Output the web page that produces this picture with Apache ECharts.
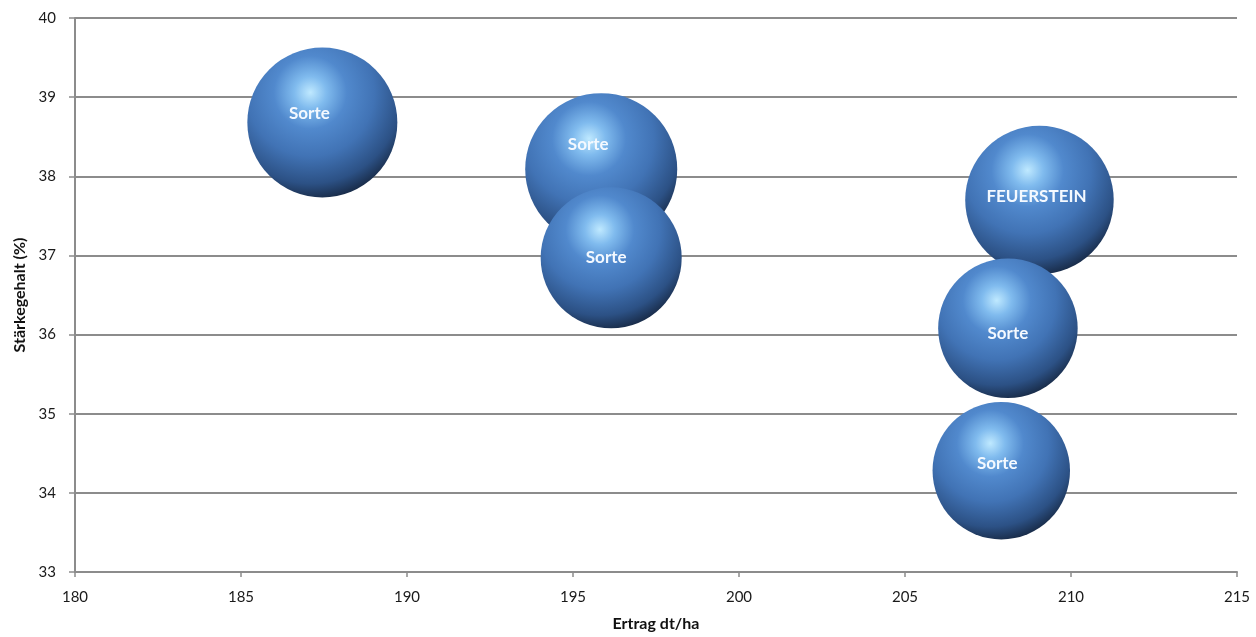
<!DOCTYPE html>
<html><head><meta charset="utf-8">
<script src="https://cdn.jsdelivr.net/npm/echarts@6/dist/echarts.min.js"></script>
<style>html,body{margin:0;padding:0;background:#fff}#c{width:1256px;height:637px}</style>
</head><body><div id="c"></div>
<script>
const names = ['Sorte','Sorte','Sorte','FEUERSTEIN','Sorte','Sorte'];
const ertrag = [187.45, 195.85, 196.15, 209.05, 208.1, 207.9];
const staerke = [38.68, 38.09, 36.97, 37.7, 36.08, 34.28];
const bubbleValue = [100, 102.7, 88.4, 98, 86.5, 84];
const xTicks = [180,185,190,195,200,205,210,215];
const yTicks = [33,34,35,36,37,38,39,40];

const chart = echarts.init(document.getElementById('c'));
const labelOffsets = [[-13,-9],[-13,-25],[-5,0],[-3,-4],[0,5],[-4,-7]];
const sphere = new echarts.graphic.RadialGradient(0.42, 0.3, 0.76, [
  {offset:0, color:'#bfe9ff'},
  {offset:0.14, color:'#80bbee'},
  {offset:0.32, color:'#5189cd'},
  {offset:0.56, color:'#4173b5'},
  {offset:0.8, color:'#2c5185'},
  {offset:1, color:'#111d31'}
]);
const data = ertrag.map((x,i)=>({
  value:[x, staerke[i], bubbleValue[i]],
  name:names[i],
  label:{offset:labelOffsets[i]}
}));
const axisFont = {fontFamily:'Lato, "Open Sans", sans-serif', fontSize:15, color:'#1a1a1a'};
const nameFont = {fontFamily:'Lato, "Open Sans", sans-serif', fontSize:16, fontWeight:'bold', color:'#111'};
chart.setOption({
  animation:false,
  grid:{left:75, right:19, top:18, bottom:65, containLabel:false, outerBoundsMode:'none'},
  xAxis:{type:'value', min:xTicks[0], max:xTicks[xTicks.length-1], interval:5,
    name:'Ertrag dt/ha', nameLocation:'middle', nameGap:44,
    nameTextStyle:nameFont,
    axisLine:{lineStyle:{color:'#8c8c8c', width:2}},
    axisTick:{show:true, length:5, lineStyle:{color:'#8c8c8c', width:1.5}},
    axisLabel:Object.assign({margin:18}, axisFont),
    splitLine:{show:false}},
  yAxis:{type:'value', min:yTicks[0], max:yTicks[yTicks.length-1], interval:1,
    name:'Stärkegehalt (%)', nameLocation:'middle', nameGap:43, nameRotate:90,
    nameTextStyle:nameFont,
    axisLine:{show:true, lineStyle:{color:'#8c8c8c', width:2}},
    axisTick:{show:true, length:6, lineStyle:{color:'#8c8c8c', width:1.5}},
    axisLabel:Object.assign({margin:19}, axisFont),
    splitLine:{show:true, lineStyle:{color:'#8c8c8c', width:2}}},
  series:[{
    type:'scatter',
    data:data,
    symbolSize: d => 150*Math.sqrt(d[2]/100),
    itemStyle:{color:sphere, opacity:1},
    label:{show:true, position:'inside', formatter:p=>p.name, color:'#f4f9ff',
      fontFamily:'Lato, "Open Sans", sans-serif', fontWeight:'bold', fontSize:17}
  }]
});
</script></body></html>
